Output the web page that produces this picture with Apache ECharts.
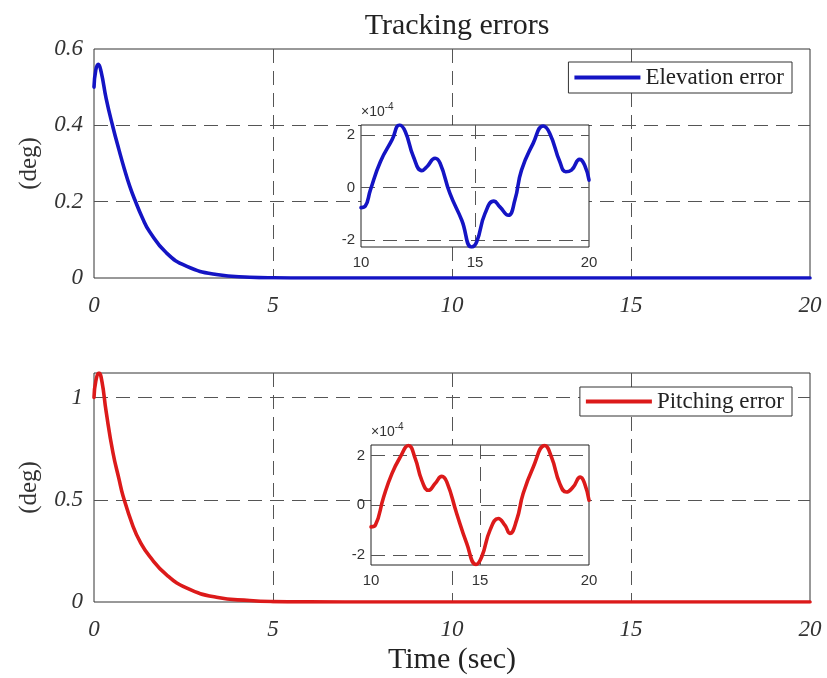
<!DOCTYPE html>
<html>
<head>
<meta charset="utf-8">
<script src="https://cdn.jsdelivr.net/npm/echarts@6/dist/echarts.min.js"></script>
<style>
html,body{margin:0;padding:0;background:#fff;}
#c{width:827px;height:678px;}
</style>
</head>
<body>
<div id="c"></div>
<script>
// ---- Data ----
const elevTime = [0, 0.05, 0.12, 0.2, 0.34, 0.53, 0.7, 0.85, 1.0, 1.14, 1.35, 1.55, 2.02, 2.58, 3.42, 4.35, 5, 6, 8, 10, 12, 14, 16, 18, 20];
const elevError = [0.50, 0.545, 0.56, 0.54, 0.47, 0.395, 0.335, 0.285, 0.24, 0.205, 0.158, 0.122, 0.066, 0.031, 0.009, 0.002, 0.0005, 0.0001, 0, 0, 0, 0, 0, 0, 0];

const pitchTime = [0, 0.05, 0.14, 0.22, 0.34, 0.53, 0.7, 0.81, 1.09, 1.3, 1.55, 2.02, 2.58, 3.42, 4.35, 5, 6, 8, 10, 12, 14, 16, 18, 20];
const pitchError = [1.0, 1.08, 1.12, 1.08, 0.93, 0.73, 0.6, 0.52, 0.37, 0.29, 0.224, 0.134, 0.069, 0.023, 0.007, 0.002, 0.0005, 0, 0, 0, 0, 0, 0, 0];

// Inset (zoom) data, values in units of 1e-4 deg
const elevZoomTime = [10, 10.19, 10.41, 10.85, 11.36, 11.69, 11.94, 12.3, 12.67, 12.89, 13.25, 13.47, 13.9, 14.42, 14.85, 15.07, 15.44, 15.83, 16.09, 16.46, 16.75, 17.04, 17.55, 17.99, 18.28, 18.72, 18.98, 19.23, 19.59, 19.81, 20];
const elevZoomError = [-0.77, -0.71, -0.1, 0.98, 1.81, 2.38, 2.13, 1.17, 0.64, 0.79, 1.11, 0.92, -0.23, -1.25, -2.27, -2.08, -0.99, -0.52, -0.74, -1.06, -0.48, 0.66, 1.68, 2.34, 2.06, 0.98, 0.6, 0.66, 1.07, 0.85, 0.28];

const pitchZoomTime = [10, 10.2, 10.58, 10.96, 11.34, 11.72, 12.03, 12.33, 12.64, 12.94, 13.25, 13.48, 13.93, 14.39, 14.82, 15.08, 15.46, 15.84, 16.14, 16.37, 16.68, 16.98, 17.44, 17.97, 18.28, 18.66, 18.96, 19.27, 19.6, 19.8, 20];
const pitchZoomError = [-0.87, -0.8, 0.33, 1.27, 1.93, 2.4, 1.87, 1.0, 0.6, 0.87, 1.16, 0.93, -0.33, -1.53, -2.38, -2.07, -1.0, -0.53, -0.8, -1.13, -0.6, 0.47, 1.53, 2.4, 1.93, 0.87, 0.53, 0.73, 1.13, 0.87, 0.2];

const mainXTicks = [0, 5, 10, 15, 20];
const topYTicks = [0, 0.2, 0.4, 0.6];
const bottomYTicks = [0, 0.5, 1];
const zoomXTicks = [10, 15, 20];
const zoomYTicks = [-2, 0, 2];

const seriesNames = ['Elevation error', 'Pitching error'];
const titleText = 'Tracking errors';
const yName = '(deg)';
const xName = 'Time (sec)';
// ---------------------------------------

const pairs = (xs, ys) => xs.map((x, i) => [x, ys[i]]);
const BLUE = '#1414c4';
const RED = '#dc1a1a';
const SERIF = '"Liberation Serif", "Times New Roman", serif';
const SANS = '"Liberation Sans", Arial, sans-serif';
const dashed = { show: true, showMinLine: false, showMaxLine: false, lineStyle: { color: '#555', width: 1, type: [14, 8] } };

function mainXAxis(gridIndex, withName) {
  return {
    type: 'value', gridIndex, min: 0, max: 20, interval: 5,
    axisLine: { show: false }, axisTick: { show: false },
    axisLabel: { margin: 16, fontFamily: SERIF, fontStyle: 'italic', fontSize: 23, color: '#333',
      formatter: v => mainXTicks.includes(v) ? String(v) : '' },
    splitLine: dashed,
    name: withName ? xName : '', nameLocation: 'middle', nameGap: 43,
    nameTextStyle: { fontFamily: SERIF, fontSize: 30, color: '#222' }
  };
}
function mainYAxis(gridIndex, max, interval, ticks) {
  return {
    type: 'value', gridIndex, min: 0, max, interval,
    axisLine: { show: false }, axisTick: { show: false },
    axisLabel: { margin: 11, fontFamily: SERIF, fontStyle: 'italic', fontSize: 23, color: '#333',
      showMaxLabel: ticks.includes(max),
      formatter: v => ticks.some(t => Math.abs(t - v) < 1e-9) ? String(+v.toFixed(2)) : '' },
    splitLine: dashed,
    name: yName, nameLocation: 'middle', nameGap: 52, nameRotate: 90,
    nameTextStyle: { fontFamily: SERIF, fontSize: 25, color: '#333' }
  };
}
function zoomXAxis(gridIndex) {
  return {
    type: 'value', gridIndex, min: 10, max: 20, interval: 5, z: 6,
    axisLine: { show: false }, axisTick: { show: false },
    axisLabel: { margin: 8, fontFamily: SANS, fontSize: 15, color: '#333',
      formatter: v => zoomXTicks.includes(v) ? String(v) : '' },
    splitLine: dashed
  };
}
function zoomYAxis(gridIndex, min, max) {
  return {
    type: 'value', gridIndex, min, max, splitNumber: 2, z: 6,
    axisLine: { show: false }, axisTick: { show: false },
    axisLabel: { margin: 6, fontFamily: SANS, fontSize: 15, color: '#333', showMinLabel: false, showMaxLabel: false,
      formatter: v => zoomYTicks.some(t => Math.abs(t - v) < 1e-9) ? String(Math.round(v)) : '' },
    splitLine: dashed,
    name: '{a|×10}{b|-4}', nameLocation: 'end', nameGap: 3,
    nameTextStyle: { align: 'left', color: '#333',
      rich: { a: { fontFamily: SANS, fontSize: 14, color: '#333' },
              b: { fontFamily: SANS, fontSize: 10, color: '#333', padding: [0, 0, 10, 0] } } }
  };
}
function lineSeries(name, data, color, xi, yi, z) {
  return {
    type: 'line', name, data, xAxisIndex: xi, yAxisIndex: yi, z,
    showSymbol: false, symbol: 'none', smooth: 0.5,
    lineStyle: { color, width: 3.6, cap: 'round', join: 'round' }, itemStyle: { color },
    emphasis: { disabled: true }, animation: false
  };
}

const chart = echarts.init(document.getElementById('c'));
chart.setOption({
  backgroundColor: '#fff',
  animation: false,
  title: { text: titleText, left: 452, top: 6, textAlign: 'center',
    textStyle: { fontFamily: SERIF, fontWeight: 'normal', fontSize: 30, color: '#222' } },
  legend: [
    { data: [seriesNames[0]], right: 35, top: 62, icon: 'rect', itemWidth: 66, itemHeight: 4,
      padding: [4, 8, 4, 6], borderColor: '#333', borderWidth: 1, backgroundColor: '#fff', borderRadius: 0,
      textStyle: { fontFamily: SERIF, fontSize: 23, color: '#222' }, selectedMode: false },
    { data: [seriesNames[1]], right: 35, top: 387, icon: 'rect', itemWidth: 66, itemHeight: 4,
      padding: [3, 8, 3, 6], borderColor: '#333', borderWidth: 1, backgroundColor: '#fff', borderRadius: 0,
      textStyle: { fontFamily: SERIF, fontSize: 23, color: '#222' }, selectedMode: false }
  ],
  grid: [
    { left: 94, right: 17, top: 49, height: 229, show: true, borderColor: '#333', borderWidth: 1, backgroundColor: 'transparent' },
    { left: 94, right: 17, top: 373, height: 229, show: true, borderColor: '#333', borderWidth: 1, backgroundColor: 'transparent' },
    { left: 361, width: 228, top: 125, height: 122, show: true, borderColor: '#222', borderWidth: 1, backgroundColor: '#fff', z: 5 },
    { left: 371, width: 218, top: 445, height: 120, show: true, borderColor: '#222', borderWidth: 1, backgroundColor: '#fff', z: 5 }
  ],
  xAxis: [ mainXAxis(0, false), mainXAxis(1, true), zoomXAxis(2), zoomXAxis(3) ],
  yAxis: [ mainYAxis(0, 0.6, 0.2, topYTicks), mainYAxis(1, 1.12, 0.5, bottomYTicks),
           zoomYAxis(2, -2.27, 2.38), zoomYAxis(3, -2.4, 2.42) ],
  series: [
    lineSeries(seriesNames[0], pairs(elevTime, elevError), BLUE, 0, 0, 3),
    lineSeries(seriesNames[1], pairs(pitchTime, pitchError), RED, 1, 1, 3),
    lineSeries(seriesNames[0] + ' zoom', pairs(elevZoomTime, elevZoomError), BLUE, 2, 2, 8),
    lineSeries(seriesNames[1] + ' zoom', pairs(pitchZoomTime, pitchZoomError), RED, 3, 3, 8)
  ]
});
</script>
</body>
</html>
